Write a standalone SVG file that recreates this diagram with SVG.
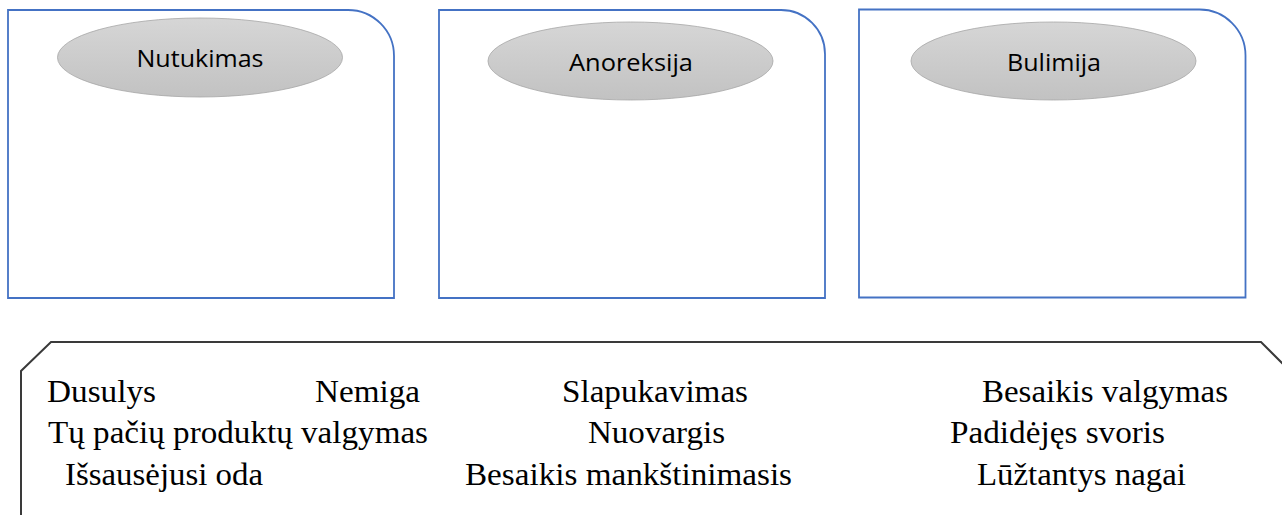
<svg xmlns="http://www.w3.org/2000/svg" width="1282" height="515" viewBox="0 0 1282 515">
  <style>
    .box { fill: #ffffff; stroke: #4472c4; stroke-width: 1.8; }
    .oval { fill: url(#ovalGrad); stroke: #a6a6a6; stroke-width: 0.8; }
    .olabel { font-family: "Open Sans", "Noto Sans", sans-serif; font-size: 23px; fill: #000000; text-anchor: middle; }
    .panel { fill: #ffffff; stroke: #3a3a3a; stroke-width: 2; }
    .item { font-family: "Liberation Serif", "Times New Roman", serif; font-size: 32px; fill: #000000; }
  </style>
  <defs>
    <linearGradient id="ovalGrad" x1="0" y1="0" x2="0" y2="1">
      <stop offset="0" stop-color="#d6d6d6"/>
      <stop offset="1" stop-color="#c2c2c2"/>
    </linearGradient>
  </defs>
  <rect width="1282" height="515" fill="#ffffff"/>

  <g id="node-nutukimas">
    <path class="box" d="M8,10 H348 A46,46 0 0 1 394,56 V298 H8 Z"/>
    <ellipse class="oval" cx="200" cy="57.5" rx="142.5" ry="39.5"/>
    <text class="olabel" x="200" y="66.7" textLength="127" lengthAdjust="spacingAndGlyphs">Nutukimas</text>
  </g>

  <g id="node-anoreksija">
    <path class="box" d="M439,10 H781 A44,44 0 0 1 825,54 V298 H439 Z"/>
    <ellipse class="oval" cx="630.5" cy="61" rx="142.5" ry="39"/>
    <text class="olabel" x="631" y="70.7" textLength="124" lengthAdjust="spacingAndGlyphs">Anoreksija</text>
  </g>

  <g id="node-bulimija">
    <path class="box" d="M859,9.5 H1199 A46,46 0 0 1 1245.5,55.5 V297.5 H859 Z"/>
    <ellipse class="oval" cx="1053.5" cy="61" rx="142.5" ry="39"/>
    <text class="olabel" x="1054" y="70.7" textLength="94" lengthAdjust="spacingAndGlyphs">Bulimija</text>
  </g>

  <g id="connectors"></g>

  <g id="node-symptoms">
    <path class="panel" d="M21,530 V371 L51,342 H1261 L1300,381 V530"/>
    <text class="item" x="47" y="402" textLength="109" lengthAdjust="spacingAndGlyphs">Dusulys</text>
    <text class="item" x="315" y="402" textLength="105" lengthAdjust="spacingAndGlyphs">Nemiga</text>
    <text class="item" x="562" y="402" textLength="186" lengthAdjust="spacingAndGlyphs">Slapukavimas</text>
    <text class="item" x="982" y="402" textLength="246" lengthAdjust="spacingAndGlyphs">Besaikis valgymas</text>

    <text class="item" x="48" y="443" textLength="380" lengthAdjust="spacingAndGlyphs">Tų pačių produktų valgymas</text>
    <text class="item" x="588" y="443" textLength="137" lengthAdjust="spacingAndGlyphs">Nuovargis</text>
    <text class="item" x="950" y="443" textLength="215" lengthAdjust="spacingAndGlyphs">Padidėjęs svoris</text>

    <text class="item" x="65" y="485" textLength="198" lengthAdjust="spacingAndGlyphs">Išsausėjusi oda</text>
    <text class="item" x="465" y="485" textLength="327" lengthAdjust="spacingAndGlyphs">Besaikis mankštinimasis</text>
    <text class="item" x="977" y="485" textLength="209" lengthAdjust="spacingAndGlyphs">Lūžtantys nagai</text>
  </g>
</svg>
